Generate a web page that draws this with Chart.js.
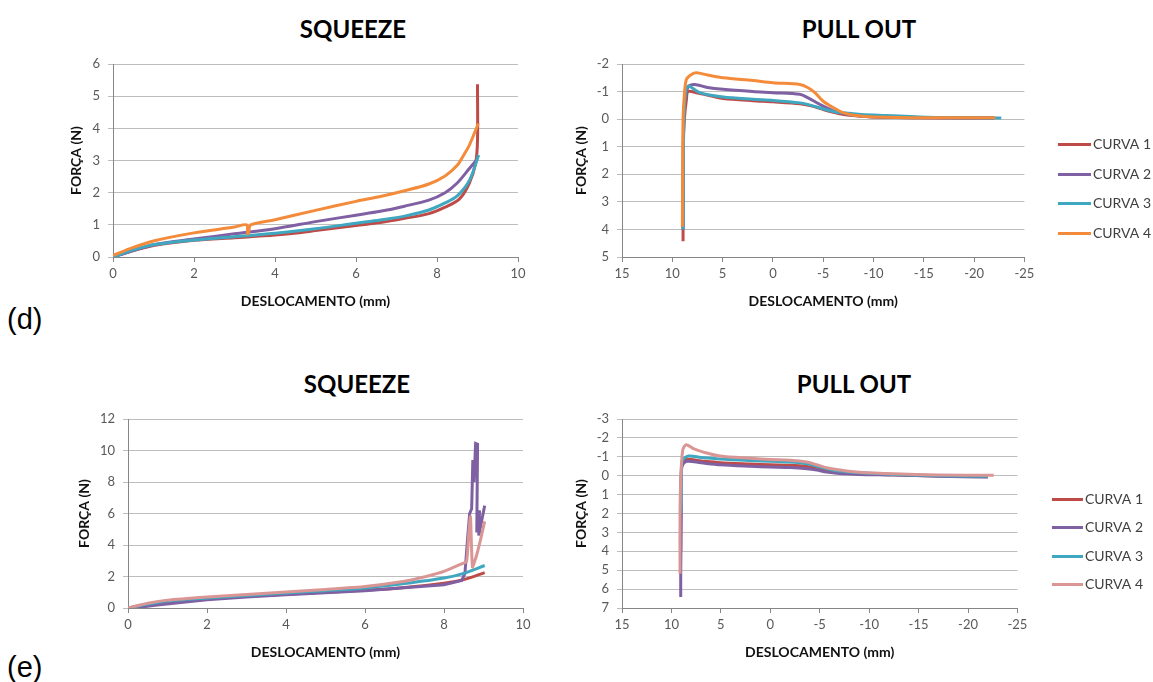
<!DOCTYPE html>
<html>
<head>
<meta charset="utf-8">
<script src="https://cdn.jsdelivr.net/npm/chart.js@4.4.1/dist/chart.umd.min.js"></script>
<style>
  body { margin: 0; background: #fff; width: 1153px; height: 682px; position: relative; overflow: hidden; }
  .box { position: absolute; }
  .title { position: absolute; font: bold 24px Lato, sans-serif; transform: translate(-50%, -50%); white-space: nowrap; color: #000; }
  .tag { position: absolute; font: 29px/1 "Liberation Sans", Arial, sans-serif; transform: translateY(-50%); color: #000; }
</style>
</head>
<body>
<div class="title" style="left:353px;top:28px">SQUEEZE</div>
<div class="title" style="left:859px;top:28px">PULL OUT</div>
<div class="title" style="left:357px;top:383px">SQUEEZE</div>
<div class="title" style="left:854px;top:383px">PULL OUT</div>
<div class="tag" style="left:7px;top:319px">(d)</div>
<div class="tag" style="left:7px;top:667px">(e)</div>

<div class="box" style="left:63px;top:46px"><canvas id="sqD" width="470" height="268"></canvas></div>
<div class="box" style="left:568px;top:46px"><canvas id="poD" width="593" height="268"></canvas></div>
<div class="box" style="left:71px;top:401px"><canvas id="sqE" width="467" height="264"></canvas></div>
<div class="box" style="left:568px;top:401px"><canvas id="poE" width="585" height="264"></canvas></div>

<script>
const curveNames = ["CURVA 1", "CURVA 2", "CURVA 3", "CURVA 4"];

// (d) squeeze
const sqD_x1 = [0, 0.5, 1, 2, 3, 4, 5, 6, 6.6, 7.2, 7.8, 8.2, 8.55, 8.8, 8.95, 9.0, 9.0];
const sqD_y1 = [0, 0.2, 0.36, 0.52, 0.6, 0.68, 0.82, 0.98, 1.07, 1.2, 1.35, 1.55, 1.8, 2.3, 2.9, 3.6, 5.37];
const sqD_x2 = [0, 0.5, 1, 2, 3, 4, 5, 6, 6.6, 7.2, 7.8, 8.2, 8.5, 8.8, 9.0];
const sqD_y2 = [0, 0.2, 0.38, 0.56, 0.72, 0.88, 1.1, 1.3, 1.42, 1.58, 1.77, 2.0, 2.3, 2.75, 3.05];
const sqD_x3 = [0, 0.5, 1, 2, 3, 4, 5, 6, 6.6, 7.2, 7.8, 8.2, 8.5, 8.8, 9.03];
const sqD_y3 = [0, 0.22, 0.38, 0.53, 0.63, 0.74, 0.88, 1.05, 1.15, 1.27, 1.46, 1.68, 1.9, 2.38, 3.17];
const sqD_x4 = [0, 0.5, 1, 2, 3, 3.3, 3.32, 3.35, 3.4, 4, 5, 6, 6.6, 7.2, 7.8, 8.2, 8.5, 8.65, 8.8, 9.02];
const sqD_y4 = [0.05, 0.3, 0.5, 0.75, 0.93, 1.0, 0.72, 0.8, 1.0, 1.16, 1.45, 1.73, 1.88, 2.06, 2.27, 2.52, 2.85, 3.15, 3.48, 4.15];

// (d) pull out
const poD_x1 = [8.93, 8.93, 8.9, 8.8, 8.6, 8.43, 7.5, 6, 4.95, 2, 0, -2.68, -3.8, -5, -6, -7, -8.5, -10, -15, -22];
const poD_y1 = [4.43, 3.0, 1.0, 0, -0.7, -1.0, -0.95, -0.83, -0.75, -0.67, -0.63, -0.56, -0.48, -0.35, -0.25, -0.17, -0.11, -0.08, -0.05, -0.04];
const poD_x2 = [8.93, 8.9, 8.85, 8.7, 8.4, 7.77, 6.5, 4.95, 2, 0, -2.68, -3.5, -5, -6, -7, -8.5, -10, -15, -22];
const poD_y2 = [4.0, 1.0, 0, -0.8, -1.18, -1.26, -1.15, -1.08, -1.0, -0.96, -0.9, -0.77, -0.47, -0.3, -0.2, -0.12, -0.08, -0.05, -0.04];
const poD_x3 = [8.93, 8.9, 8.85, 8.7, 8.43, 7.27, 4.95, 2, 0, -2.68, -3.8, -5, -6, -7, -8.5, -10, -15.3, -22.7];
const poD_y3 = [4.0, 1.0, 0, -0.9, -1.2, -0.96, -0.8, -0.72, -0.68, -0.59, -0.5, -0.37, -0.28, -0.23, -0.18, -0.15, -0.07, -0.04];
const poD_x4 = [9.0, 8.97, 8.93, 8.8, 8.6, 8.1, 7.6, 6.5, 4.95, 2, 0, -2.68, -3.5, -4.2, -5, -6, -7, -8.5, -10, -15.3, -22.1];
const poD_y4 = [3.9, 2.0, 0, -0.9, -1.44, -1.62, -1.68, -1.6, -1.5, -1.4, -1.32, -1.26, -1.14, -0.95, -0.65, -0.42, -0.23, -0.12, -0.08, -0.05, -0.05];

// (e) squeeze
const sqE_x1 = [0, 0.5, 1, 2, 3, 4, 5, 6, 7, 8, 8.5, 9.03];
const sqE_y1 = [0, 0.2, 0.4, 0.6, 0.75, 0.88, 1.0, 1.12, 1.3, 1.58, 1.8, 2.25];
const sqE_x2 = [0, 0.3, 0.8, 2, 3, 4, 5, 6, 7, 8, 8.45, 8.53, 8.6, 8.65, 8.7, 8.73, 8.76, 8.8, 8.85, 8.83, 8.9, 8.88, 8.95, 9.03];
const sqE_y2 = [0, 0.05, 0.21, 0.53, 0.7, 0.84, 0.97, 1.1, 1.28, 1.48, 1.75, 2.2, 4.5, 6.0, 6.3, 9.4, 8.0, 10.45, 10.4, 4.8, 6.2, 4.6, 5.5, 6.5];
const sqE_x3 = [0, 0.5, 1, 2, 3, 4, 5, 6, 7, 8, 8.5, 9.03];
const sqE_y3 = [0, 0.25, 0.45, 0.63, 0.8, 0.95, 1.1, 1.27, 1.55, 1.9, 2.2, 2.7];
const sqE_x4 = [0, 0.5, 1, 2, 3, 4, 5, 6, 7, 7.55, 8, 8.4, 8.57, 8.62, 8.67, 8.72, 8.82, 8.94, 9.03];
const sqE_y4 = [0, 0.3, 0.5, 0.7, 0.86, 1.01, 1.18, 1.37, 1.7, 2.0, 2.32, 2.75, 2.95, 4.5, 5.8, 2.6, 3.3, 4.5, 5.5];

// (e) pull out
const poE_x1 = [9.06, 9.06, 9.0, 8.9, 8.46, 7, 5.08, 2, 0, -2, -3.7, -4.7, -5.7, -7, -9, -12.45, -17, -22];
const poE_y1 = [4.0, 1.0, 0, -0.6, -0.86, -0.78, -0.69, -0.62, -0.58, -0.55, -0.49, -0.4, -0.28, -0.18, -0.1, -0.05, 0.02, 0.05];
const poE_x2 = [9.06, 9.06, 9.0, 8.96, 8.46, 7, 5.08, 2, 0, -2, -3.7, -4.7, -5.7, -7, -9, -12.45, -17, -22];
const poE_y2 = [6.42, 5.2, 2.0, -0.46, -0.76, -0.68, -0.58, -0.5, -0.46, -0.43, -0.37, -0.3, -0.19, -0.12, -0.07, -0.04, 0.03, 0.07];
const poE_x3 = [9.06, 9.04, 9.0, 8.9, 8.29, 7, 5.08, 2, 0, -2, -3.7, -4.7, -5.7, -7, -9, -12.45, -17, -22];
const poE_y3 = [2.0, 1.0, 0, -0.8, -1.04, -0.96, -0.88, -0.8, -0.76, -0.72, -0.63, -0.5, -0.37, -0.25, -0.15, -0.07, 0.0, 0.03];
const poE_x4 = [9.13, 9.13, 9.06, 8.86, 8.52, 7.78, 6.77, 5.08, 2, 0, -2, -3.7, -4.7, -5.7, -7.7, -9, -12.45, -17, -22.6];
const poE_y4 = [5.19, 2.0, 0.25, -1.34, -1.64, -1.43, -1.25, -1.04, -0.92, -0.86, -0.82, -0.72, -0.58, -0.42, -0.25, -0.18, -0.1, -0.04, -0.02];

const colorsD = ["#be4b48", "#7f60a2", "#3fa8c0", "#f38b3b"];
const colorsE = ["#be4b48", "#7f60a2", "#3fa8c0", "#d99694"];

const tickFont = { family: "Lato", size: 13 };
const axisFont = { family: "Lato", size: 14, weight: "bold" };

function toPoints(xs, ys) {
    return xs.map((x, i) => ({ x: x, y: ys[i] }));
}

// legend swatch: a short line at the right end of a slightly wider image
function swatch(color, gap) {
    const c = document.createElement("canvas");
    c.width = 56;
    c.height = 3;
    const ctx = c.getContext("2d");
    ctx.fillStyle = color;
    ctx.fillRect(gap, 0, c.width - gap, 3);
    return c;
}

function buildChart(id, series, colors, axes) {
    const datasets = series.map((s, i) => ({
        label: curveNames[i],
        data: toPoints(s.x, s.y),
        borderColor: colors[i],
        backgroundColor: colors[i],
        borderWidth: 3,
        pointRadius: 0,
        pointStyle: swatch(colors[i], axes.swatchGap),
        showLine: true,
        tension: s.tension !== undefined ? s.tension : 0.3,
        order: 4 - i   // later curves on top, like the original
    }));

    return new Chart(document.getElementById(id), {
        type: "scatter",
        data: { datasets: datasets },
        options: {
            responsive: false,
            animation: false,
            layout: { padding: { top: 18, right: axes.legend ? 0 : 15, left: 0, bottom: 0 } },
            plugins: {
                tooltip: { enabled: false },
                legend: {
                    display: axes.legend,
                    position: "right",
                    align: "center",
                    labels: {
                        usePointStyle: true,
                        pointStyleWidth: 46,
                        padding: axes.legendPad,
                        color: "#404040",
                        font: { family: "Lato", size: 14 },
                        sort: (a, b) => a.datasetIndex - b.datasetIndex
                    }
                }
            },
            scales: {
                x: {
                    type: "linear",
                    min: axes.xMin,
                    max: axes.xMax,
                    reverse: axes.reverse,
                    ticks: { stepSize: axes.xStep, font: tickFont, color: "#595959", padding: 4, maxRotation: 0 },
                    grid: { drawOnChartArea: false, tickLength: 5, color: "#868686" },
                    border: { color: "#868686" },
                    title: { display: true, text: "DESLOCAMENTO (mm)", font: axisFont, color: "#111", padding: { top: 0, bottom: 4 } },
                    afterFit: scale => { scale.height = 57; }
                },
                y: {
                    type: "linear",
                    min: axes.yMin,
                    max: axes.yMax,
                    reverse: axes.reverse,
                    ticks: { stepSize: axes.yStep, font: tickFont, color: "#595959", padding: 8 },
                    grid: { color: "#bdbdbd", tickLength: 5 },
                    border: { color: "#868686" },
                    title: { display: true, text: "FORÇA (N)", font: axisFont, color: "#111", padding: { top: 5, bottom: 0 } },
                    afterFit: scale => { scale.width = axes.yWidth; }
                }
            }
        }
    });
}

buildChart("sqD", [
    { x: sqD_x1, y: sqD_y1 }, { x: sqD_x2, y: sqD_y2 },
    { x: sqD_x3, y: sqD_y3 }, { x: sqD_x4, y: sqD_y4 }
], colorsD, { xMin: 0, xMax: 10, xStep: 2, yMin: 0, yMax: 6, yStep: 1, reverse: false, yWidth: 50, legend: false, swatchGap: 23, legendPad: 15.5 });

buildChart("poD", [
    { x: poD_x1, y: poD_y1 }, { x: poD_x2, y: poD_y2 },
    { x: poD_x3, y: poD_y3 }, { x: poD_x4, y: poD_y4 }
], colorsD, { xMin: -25, xMax: 15, xStep: 5, yMin: -2, yMax: 5, yStep: 1, reverse: true, yWidth: 54, legend: true, swatchGap: 23, legendPad: 15.5 });

buildChart("sqE", [
    { x: sqE_x1, y: sqE_y1 }, { x: sqE_x2, y: sqE_y2, tension: 0 },
    { x: sqE_x3, y: sqE_y3 }, { x: sqE_x4, y: sqE_y4, tension: 0.15 }
], colorsE, { xMin: 0, xMax: 10, xStep: 2, yMin: 0, yMax: 12, yStep: 2, reverse: false, yWidth: 57, legend: false, swatchGap: 25, legendPad: 14.5 });

buildChart("poE", [
    { x: poE_x1, y: poE_y1 }, { x: poE_x2, y: poE_y2 },
    { x: poE_x3, y: poE_y3 }, { x: poE_x4, y: poE_y4 }
], colorsE, { xMin: -25, xMax: 15, xStep: 5, yMin: -3, yMax: 7, yStep: 1, reverse: true, yWidth: 54, legend: true, swatchGap: 25, legendPad: 14.5 });
</script>
</body>
</html>
